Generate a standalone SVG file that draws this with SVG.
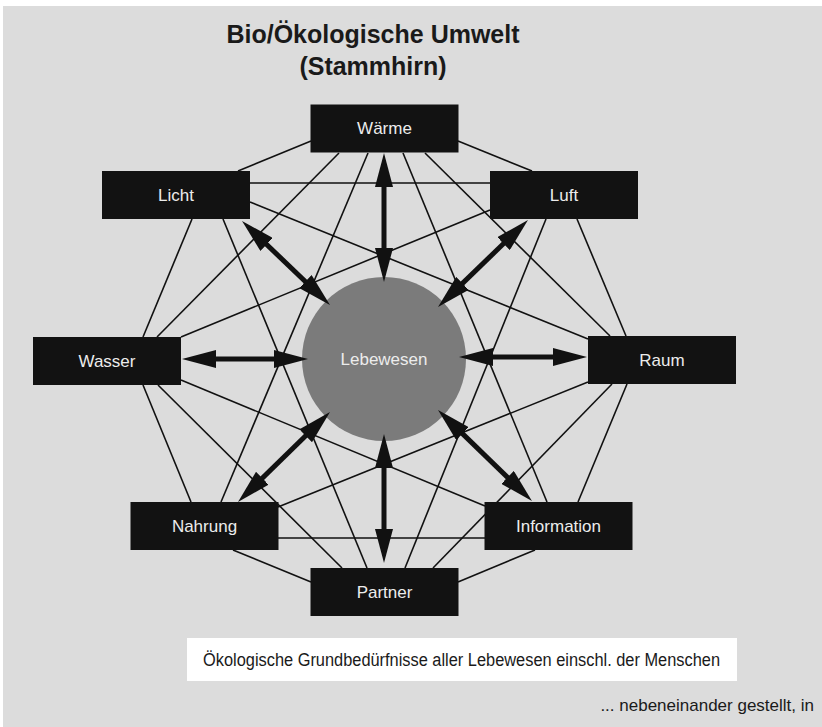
<svg xmlns="http://www.w3.org/2000/svg" width="822" height="727" viewBox="0 0 822 727">
<style>
.bg{fill:#dcdcdc}
.node rect{fill:#121212}
.node text{font-family:"Liberation Sans",Arial,sans-serif;font-size:17px;fill:#ececec;text-anchor:middle}
.edge line{stroke:#111;stroke-width:1.6}
.arr line{stroke:#111;stroke-width:5}
.title{font-family:"Liberation Sans",Arial,sans-serif;font-weight:bold;font-size:25px;fill:#1a1a1a;text-anchor:middle}
.cap{font-family:"Liberation Sans",Arial,sans-serif;font-size:18px;fill:#1a1a1a}
</style>
<defs>
<marker id="ah" viewBox="0 0 34 18" refX="14" refY="9" markerWidth="34" markerHeight="18" markerUnits="userSpaceOnUse" orient="auto-start-reverse">
<path d="M0,0 L34,9 L0,18 Z" fill="#111"/>
</marker>
</defs>
<rect width="822" height="727" fill="#ffffff"/>
<rect class="bg" x="3" y="6" width="819" height="721"/>
<text class="title" x="373" y="43">Bio/Ökologische Umwelt</text>
<text class="title" x="373" y="75">(Stammhirn)</text>
<g id="connectors" class="edge">
<line x1="311" y1="141" x2="238" y2="171"/>
<line x1="458" y1="141" x2="532" y2="171"/>
<line x1="339" y1="153" x2="157" y2="337"/>
<line x1="425" y1="153" x2="610" y2="336"/>
<line x1="368" y1="153" x2="221" y2="502"/>
<line x1="403" y1="153" x2="547" y2="502"/>
<line x1="250" y1="183" x2="490" y2="183"/>
<line x1="192" y1="219" x2="143" y2="337"/>
<line x1="250" y1="202" x2="588" y2="339"/>
<line x1="223" y1="219" x2="367" y2="568"/>
<line x1="490" y1="210" x2="181" y2="337"/>
<line x1="577" y1="219" x2="626" y2="336"/>
<line x1="546" y1="219" x2="405" y2="568"/>
<line x1="143" y1="385" x2="191" y2="502"/>
<line x1="158" y1="385" x2="342" y2="568"/>
<line x1="181" y1="380" x2="485" y2="506"/>
<line x1="588" y1="382" x2="278" y2="507"/>
<line x1="627" y1="384" x2="578" y2="502"/>
<line x1="612" y1="384" x2="433" y2="568"/>
<line x1="278" y1="538" x2="485" y2="538"/>
<line x1="233" y1="550" x2="311" y2="582"/>
<line x1="535" y1="550" x2="458" y2="582"/>
</g>
<g id="center">
<circle cx="384" cy="359" r="82" fill="#7b7b7b"/>
<text x="384" y="365" font-family="Liberation Sans, Arial, sans-serif" font-size="17" fill="#ececec" text-anchor="middle">Lebewesen</text>
</g>
<g id="arrows" class="arr">
<line x1="384" y1="173" x2="384" y2="262" marker-start="url(#ah)" marker-end="url(#ah)"/>
<line x1="256.5" y1="234.8" x2="315.5" y2="291.2" marker-start="url(#ah)" marker-end="url(#ah)"/>
<line x1="513.6" y1="233.9" x2="452.4" y2="293.1" marker-start="url(#ah)" marker-end="url(#ah)"/>
<line x1="202" y1="359" x2="288" y2="359" marker-start="url(#ah)" marker-end="url(#ah)"/>
<line x1="479" y1="357" x2="567" y2="357" marker-start="url(#ah)" marker-end="url(#ah)"/>
<line x1="252.3" y1="488" x2="315.7" y2="426" marker-start="url(#ah)" marker-end="url(#ah)"/>
<line x1="452.4" y1="423.9" x2="517.6" y2="487.1" marker-start="url(#ah)" marker-end="url(#ah)"/>
<line x1="384" y1="454" x2="384" y2="543" marker-start="url(#ah)" marker-end="url(#ah)"/>
</g>
<g id="waerme" class="node"><rect x="310.5" y="104.5" width="148" height="48"/><text x="384.5" y="134">Wärme</text></g>
<g id="licht" class="node"><rect x="102" y="171" width="148" height="48"/><text x="176" y="201">Licht</text></g>
<g id="luft" class="node"><rect x="490" y="171" width="148" height="48"/><text x="564" y="201">Luft</text></g>
<g id="wasser" class="node"><rect x="33" y="337" width="148" height="48"/><text x="107" y="367">Wasser</text></g>
<g id="raum" class="node"><rect x="588" y="336" width="148" height="48"/><text x="662" y="366">Raum</text></g>
<g id="nahrung" class="node"><rect x="130.5" y="502" width="148" height="48"/><text x="204.5" y="532">Nahrung</text></g>
<g id="information" class="node"><rect x="484.5" y="502" width="148" height="48"/><text x="558.5" y="532">Information</text></g>
<g id="partner" class="node"><rect x="310.5" y="568" width="148" height="48"/><text x="384.5" y="598">Partner</text></g>
<g id="caption">
<rect x="187" y="638" width="550" height="43" fill="#ffffff"/>
<text class="cap" x="203" y="666" textLength="517" lengthAdjust="spacingAndGlyphs">Ökologische Grundbedürfnisse aller Lebewesen einschl. der Menschen</text>
</g>
<text x="814" y="711" font-family="Liberation Sans, Arial, sans-serif" font-size="17" fill="#1a1a1a" text-anchor="end">... nebeneinander gestellt, in</text>
</svg>
